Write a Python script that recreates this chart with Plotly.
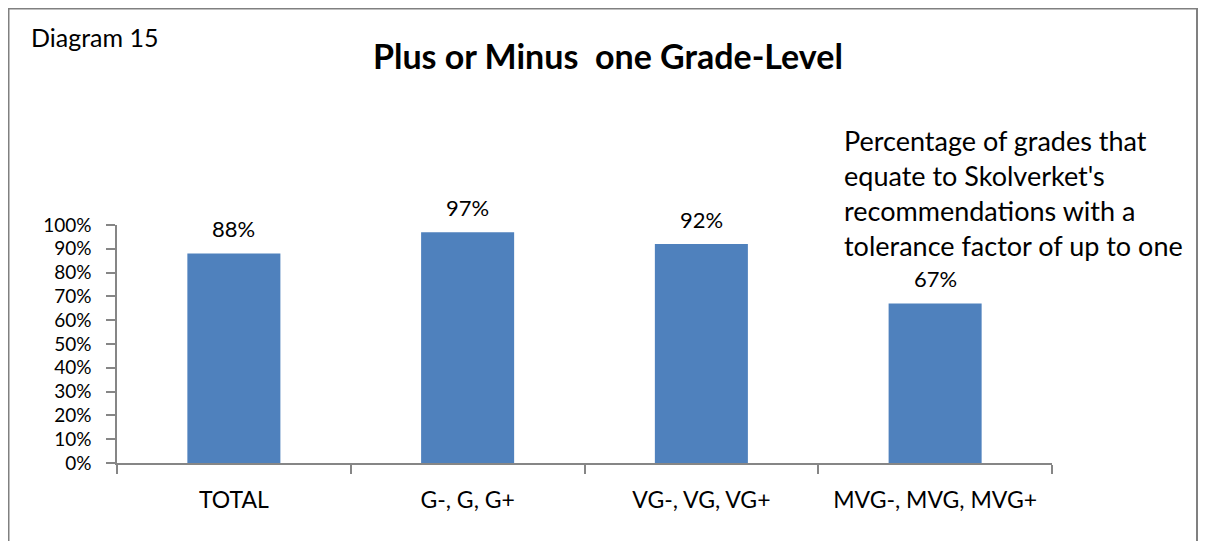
import plotly.graph_objects as go

categories = ["TOTAL", "G-, G, G+", "VG-, VG, VG+", "MVG-, MVG, MVG+"]
values = [0.88, 0.97, 0.92, 0.67]
value_labels = ["88%", "97%", "92%", "67%"]
ytick_vals = [i / 10 for i in range(11)]
ytick_text = [f"{i*10}%" for i in range(11)]
title_text = "Plus or Minus  one Grade-Level"
diagram_text = "Diagram 15"
note_text = ("Percentage of grades that<br>equate to Skolverket's<br>"
             "recommendations with a<br>tolerance factor of up to one")

# page has an 8px body margin; figure is laid out in page pixels minus OFF
OFF = 8
W, H = 1190, 533
ML, MT = 117 - OFF, 225 - OFF
PW, PH = 935, 238
MR = W - ML - PW
MB = H - MT - PH
FONT = "Lato, Carlito, Calibri, sans-serif"
AXC = "#868686"

def px_x(x):
    return (x - OFF - ML) / PW

def px_y(y):
    return (MT + PH - (y - OFF)) / PH

fig = go.Figure()
fig.add_trace(go.Bar(x=categories, y=values, marker=dict(color="#4F81BD", line=dict(width=0)),
                     hoverinfo="skip"))

for c, v, t in zip(categories, values, value_labels):
    fig.add_annotation(x=c, y=v, xref="x", yref="y", text=t, showarrow=False,
                       yanchor="middle", yshift=25, font=dict(family=FONT, size=22, color="#000"))

fig.add_annotation(x=px_x(842), y=px_y(193), xref="paper", yref="paper", text=note_text,
                   showarrow=False, xanchor="left", yanchor="middle", align="left",
                   font=dict(family=FONT, size=27, color="#000"))
fig.add_annotation(x=px_x(608), y=px_y(55), xref="paper", yref="paper", text=f"<b>{title_text}</b>",
                   showarrow=False, xanchor="center", yanchor="middle",
                   font=dict(family=FONT, size=34, color="#000"))
fig.add_annotation(x=px_x(29), y=px_y(37), xref="paper", yref="paper", text=diagram_text,
                   showarrow=False, xanchor="left", yanchor="middle",
                   font=dict(family=FONT, size=25, color="#000"))

fig.add_shape(type="rect", xref="paper", yref="paper",
              x0=px_x(OFF + 0.5), x1=px_x(OFF + W - 1), y0=px_y(OFF + 0.5), y1=px_y(600),
              line=dict(color="#808080", width=2), fillcolor="rgba(0,0,0,0)", layer="below")

fig.update_layout(
    width=W, height=H, margin=dict(l=ML, r=MR, t=MT, b=MB, autoexpand=False),
    paper_bgcolor="white", plot_bgcolor="white", showlegend=False, bargap=0.602,
    font=dict(family=FONT, size=22, color="#000"),
)
fig.update_xaxes(type="category", range=[-0.5, 3.5], showline=True, linecolor=AXC, linewidth=1.5,
                 ticks="outside", ticklen=9, tickcolor=AXC, tickwidth=1.5, tickson="boundaries",
                 showgrid=False, ticklabelstandoff=16, tickfont=dict(family=FONT, size=23, color="#000"))
fig.update_yaxes(range=[0, 1], tickmode="array", tickvals=ytick_vals, ticktext=ytick_text,
                 showline=True, linecolor=AXC, linewidth=1.5, ticks="outside", ticklen=9,
                 tickcolor=AXC, tickwidth=1.5, showgrid=False, zeroline=False,
                 ticklabelstandoff=11, tickfont=dict(family=FONT, size=19, color="#000"))

fig.write_html("out.html")
